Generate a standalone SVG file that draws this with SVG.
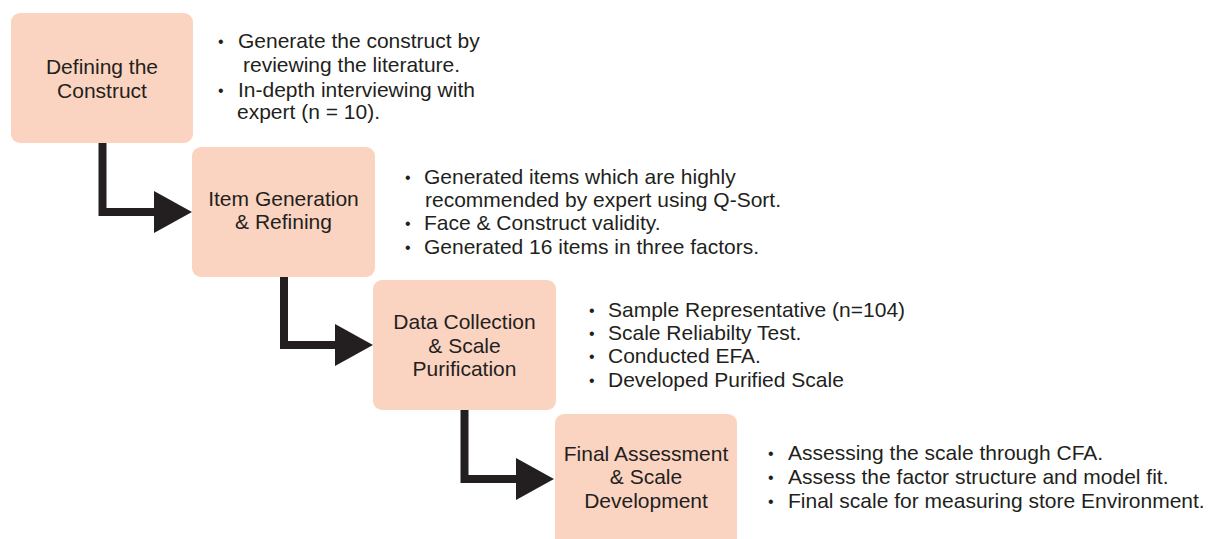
<svg xmlns="http://www.w3.org/2000/svg" width="1221" height="539" viewBox="0 0 1221 539">
  <style>
    .box { fill: #FBD3C1; }
    .lbl { font-family: "Liberation Sans", Arial, sans-serif; font-size: 21px; fill: #231F20; text-anchor: middle; }
    .txt { font-family: "Liberation Sans", Arial, sans-serif; font-size: 21px; fill: #231F20; }
    .dot { font-family: "Liberation Sans", Arial, sans-serif; font-size: 16px; fill: #231F20; }
    .flow { fill: none; stroke: #231F20; stroke-width: 8; stroke-linejoin: miter; }
  </style>
  <defs>
    <marker id="head" viewBox="0 0 38 42" markerWidth="38" markerHeight="42" refX="2" refY="21" markerUnits="userSpaceOnUse" orient="auto">
      <path d="M0,0 L38,21 L0,42 Z" fill="#231F20"/>
    </marker>
  </defs>

  <!-- connectors -->
  <g id="connectors">
    <path class="flow" d="M102.5,143 V212 H156" marker-end="url(#head)"/>
    <path class="flow" d="M284,277 V345 H337" marker-end="url(#head)"/>
    <path class="flow" d="M464.5,410 V479 H518" marker-end="url(#head)"/>
  </g>

  <!-- step 1 -->
  <g id="step1">
    <rect class="box" x="11" y="13" width="182" height="130" rx="9"/>
    <text class="lbl" x="102" y="74">Defining the</text>
    <text class="lbl" x="102" y="98">Construct</text>
  </g>
  <g id="notes1">
    <text class="dot" x="218" y="47">•</text>
    <text class="txt" x="238" y="48">Generate the construct by</text>
    <text class="txt" x="243" y="72">reviewing the literature.</text>
    <text class="dot" x="218" y="96">•</text>
    <text class="txt" x="238" y="97">In-depth interviewing with</text>
    <text class="txt" x="237" y="119">expert (n = 10).</text>
  </g>

  <!-- step 2 -->
  <g id="step2">
    <rect class="box" x="192" y="147" width="183" height="130" rx="9"/>
    <text class="lbl" x="283.5" y="206">Item Generation</text>
    <text class="lbl" x="283.5" y="229">&amp; Refining</text>
  </g>
  <g id="notes2">
    <text class="dot" x="405" y="183">•</text>
    <text class="txt" x="424" y="184">Generated items which are highly</text>
    <text class="txt" x="425" y="207">recommended by expert using Q-Sort.</text>
    <text class="dot" x="405" y="229">•</text>
    <text class="txt" x="424" y="230">Face &amp; Construct validity.</text>
    <text class="dot" x="405" y="253">•</text>
    <text class="txt" x="424" y="254">Generated 16 items in three factors.</text>
  </g>

  <!-- step 3 -->
  <g id="step3">
    <rect class="box" x="373" y="280" width="183" height="130" rx="9"/>
    <text class="lbl" x="464.5" y="329">Data Collection</text>
    <text class="lbl" x="464.5" y="353">&amp; Scale</text>
    <text class="lbl" x="464.5" y="376">Purification</text>
  </g>
  <g id="notes3">
    <text class="dot" x="589" y="316">•</text>
    <text class="txt" x="608" y="317">Sample Representative (n=104)</text>
    <text class="dot" x="589" y="339">•</text>
    <text class="txt" x="608" y="340">Scale Reliabilty Test.</text>
    <text class="dot" x="589" y="362">•</text>
    <text class="txt" x="608" y="363">Conducted EFA.</text>
    <text class="dot" x="589" y="386">•</text>
    <text class="txt" x="608" y="387">Developed Purified Scale</text>
  </g>

  <!-- step 4 -->
  <g id="step4">
    <rect class="box" x="555" y="414" width="182" height="135" rx="9"/>
    <text class="lbl" x="646" y="461">Final Assessment</text>
    <text class="lbl" x="646" y="484">&amp; Scale</text>
    <text class="lbl" x="646" y="508">Development</text>
  </g>
  <g id="notes4">
    <text class="dot" x="768" y="459">•</text>
    <text class="txt" x="788" y="460">Assessing the scale through CFA.</text>
    <text class="dot" x="768" y="483">•</text>
    <text class="txt" x="788" y="484">Assess the factor structure and model fit.</text>
    <text class="dot" x="768" y="507">•</text>
    <text class="txt" x="788" y="508">Final scale for measuring store Environment.</text>
  </g>
</svg>
